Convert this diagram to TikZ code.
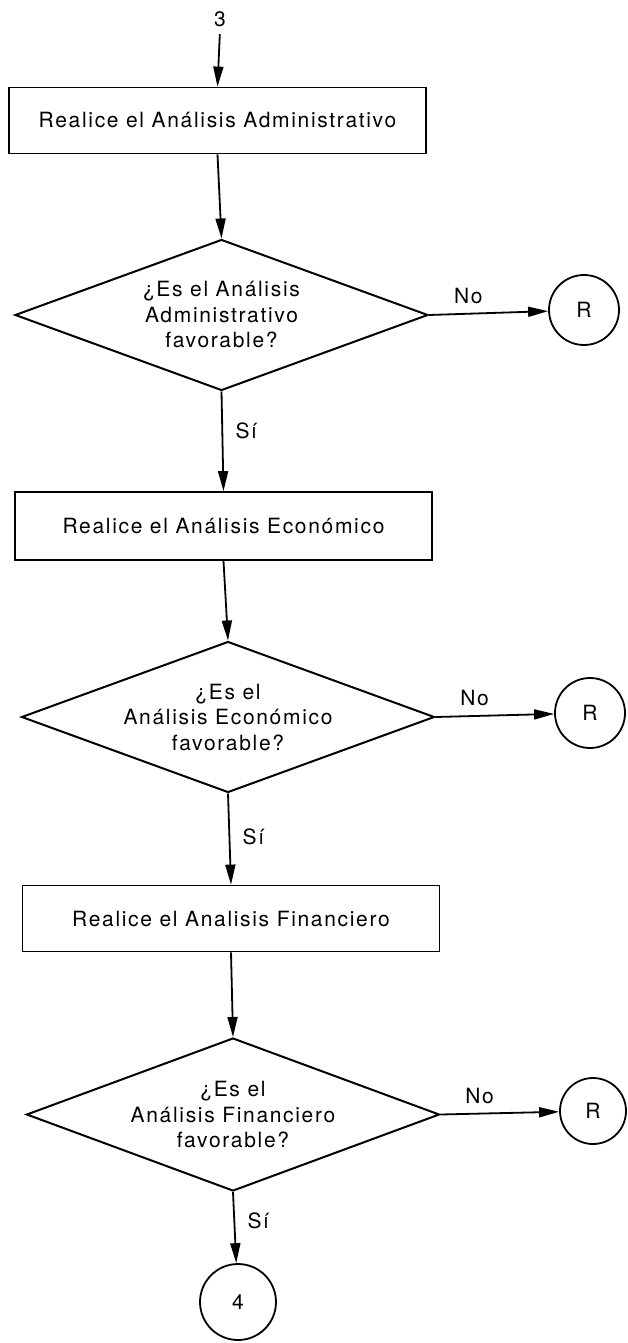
\documentclass[tikz,border=0pt]{standalone}
\usepackage{fontspec}
\setmainfont{TeX Gyre Heros}[LetterSpace=8]
\usetikzlibrary{shapes.geometric,arrows.meta}
\begin{document}
\begin{tikzpicture}[x=1pt,y=-1pt,
  every node/.style={font=\fontsize{21}{25.5}\selectfont},
  flow/.style={line width=1.8pt, -{Triangle[length=20pt,width=10pt]}},
  stepbox/.style={draw, line width=1.8pt, rectangle, minimum width=417pt,
    minimum height=66pt, inner sep=0pt},
  question/.style={draw, line width=2pt, diamond, aspect=2.75,
    minimum width=413pt, minimum height=151pt, inner sep=0pt, align=center},
  connector/.style={draw, line width=1.8pt, circle, minimum size=70pt, inner sep=0pt},
  nolabel/.style={pos=0.33, above=6pt},
  silabel/.style={right=9pt},
]
\fill[white] (0,0) rectangle (627,1343);
\useasboundingbox (0,0) rectangle (627,1343);

% entry connector and first step
\node (n3) at (220,19) {3};
\node[stepbox] (b1) at (217.5,120.5) {Realice el Análisis Administrativo};
\node[question] (d1) at (221.5,315) {¿Es el Análisis\\Administrativo\\favorable?};
\node[connector] (r1) at (584,310) {R};

% second step
\node[stepbox, minimum height=68pt] (b2) at (223.5,526) {Realice el Análisis Económico};
\node[question] (d2) at (228,717) {¿Es el\\Análisis Económico\\favorable?};
\node[connector] (r2) at (590,713) {R};

% third step
\node[stepbox] (b3) at (231,918.5) {Realice el Analisis Financiero};
\node[question, minimum height=153pt] (d3) at (233,1114.5) {¿Es el\\Análisis Financiero\\favorable?};
\node[connector, minimum size=66pt] (r3) at (593,1111) {R};
\node[connector, minimum size=76pt] (c4) at (238,1302) {4};

% connectors
\draw[flow, shorten <=4pt] (n3.south) -- (b1.north);
\draw[flow] (b1.south) -- (d1.north);
\draw[flow] (d1.east) -- node[nolabel] {No} (r1);
\draw[flow] (d1.south) -- node[silabel, pos=0.39] {Sí} (b2.north);

\draw[flow] (b2.south) -- (d2.north);
\draw[flow] (d2.east) -- node[nolabel] {No} (r2);
\draw[flow] (d2.south) -- node[silabel, pos=0.48] {Sí} (b3.north);

\draw[flow] (b3.south) -- (d3.north);
\draw[flow] (d3.east) -- node[nolabel] {No} (r3);
\draw[flow] (d3.south) -- node[silabel, pos=0.4] {Sí} (c4);
\end{tikzpicture}
\end{document}
